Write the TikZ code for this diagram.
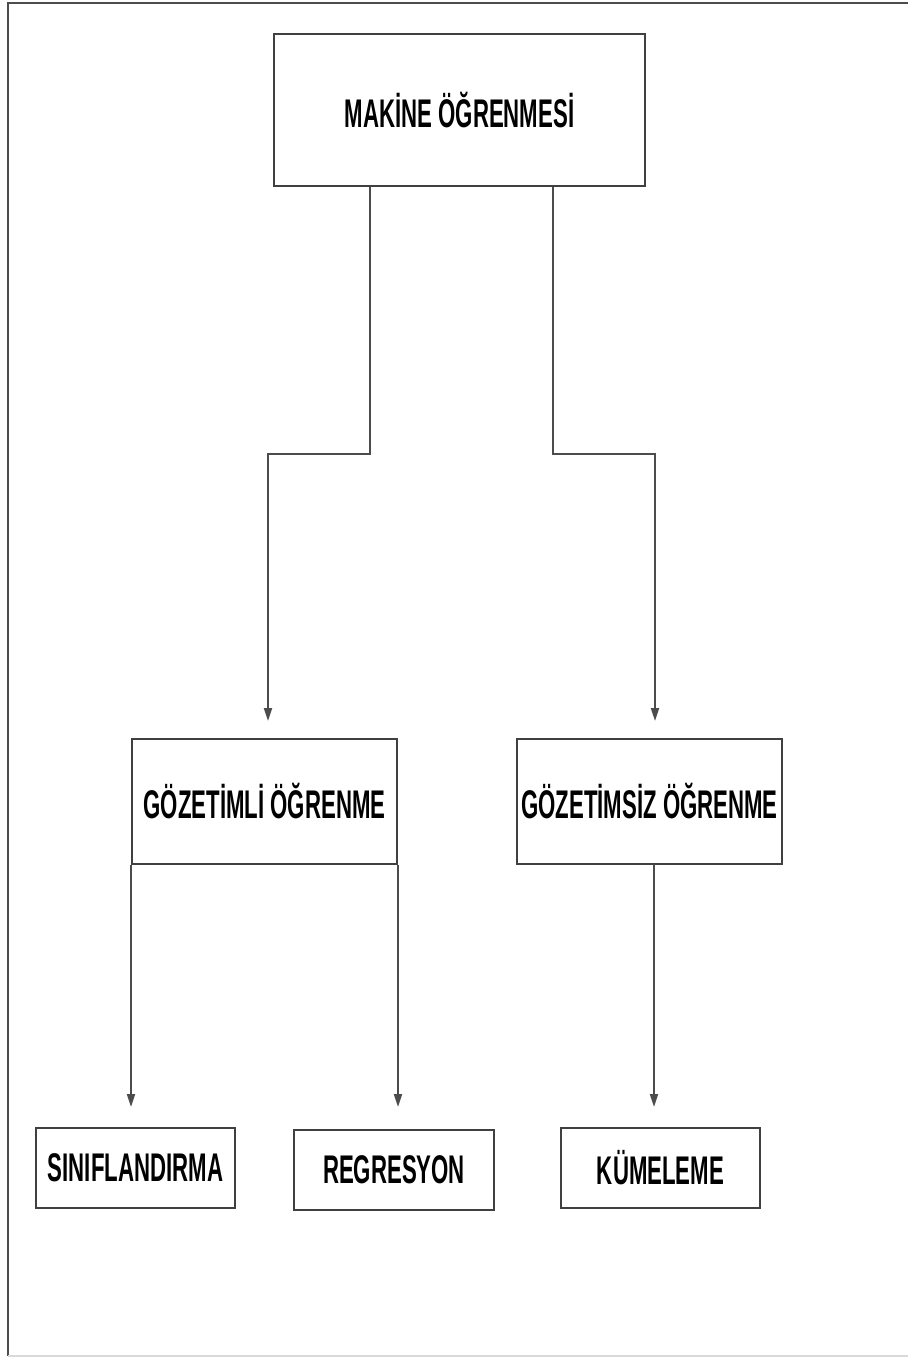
\documentclass[tikz,border=0pt]{standalone}
\usepackage{fontspec}
\setmainfont{Liberation Sans}[FakeStretch=0.555]
\usetikzlibrary{arrows.meta}
\tikzset{
  box/.style={draw=black!75, line width=1pt, fill=white, inner sep=0pt,
    font=\fontsize{20pt}{24pt}\selectfont\bfseries},
  link/.style={draw=black!70, line width=1pt, -{Triangle[width=4pt,length=6.5pt]}}
}
\begin{document}
\begin{tikzpicture}[x=0.5pt,y=-0.5pt]
\useasboundingbox (0,0) rectangle (908,1358);
\draw[black!70, line width=1pt] (908,3) -- (8,3) -- (8,1356);
\draw[black!15, line width=1pt] (8,1356) -- (908,1356);

\node[box, minimum width=185.5pt, minimum height=76pt] (ml) at (459.5,110) {MAKİNE ÖĞRENMESİ};
\node[box, minimum width=132.5pt, minimum height=62.5pt] (sup) at (264.5,801.5) {GÖZETİMLİ ÖĞRENME};
\node[box, minimum width=132.5pt, minimum height=62.5pt] (unsup) at (649.5,801.5) {GÖZETİMSİZ ÖĞRENME};
\node[box, minimum width=99.5pt, minimum height=40pt] (sinif) at (135.5,1168) {SINIFLANDIRMA};
\node[box, minimum width=100pt, minimum height=40pt] (reg) at (394,1170) {REGRESYON};
\node[box, minimum width=99.5pt, minimum height=40pt] (kume) at (660.5,1168) {KÜMELEME};

\coordinate (a1) at (370,454);
\coordinate (a2) at (268,454);
\coordinate (b1) at (553,454);
\coordinate (b2) at (655,454);
\coordinate (c1) at (654,864);

\draw[link, shorten >=8.5pt] (ml.south -| a1) -- (a1) -- (a2) -- (a2 |- sup.north);
\draw[link, shorten >=8.5pt] (ml.south -| b1) -- (b1) -- (b2) -- (b2 |- unsup.north);
\draw[link, shorten >=10pt] (sup.south west) -- (sup.south west |- sinif.north);
\draw[link, shorten >=11pt] (sup.south east) -- (sup.south east |- reg.north);
\draw[link, shorten >=10pt] (c1) -- (c1 |- kume.north);
\end{tikzpicture}
\end{document}
